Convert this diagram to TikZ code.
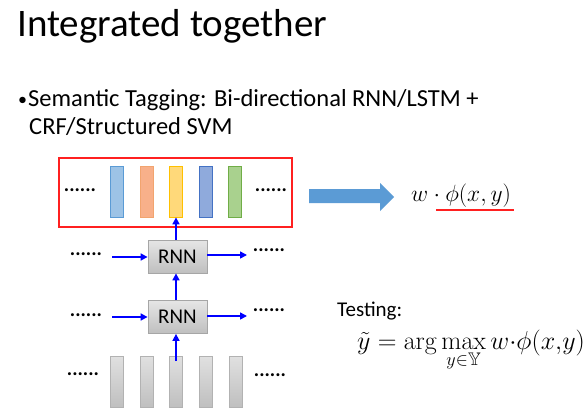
\RequirePackage{fix-cm}
\documentclass[tikz,border=0pt]{standalone}
\usepackage{amsmath,amssymb}
\usepackage[no-math]{fontspec}
\setmainfont{Carlito}
\usetikzlibrary{arrows.meta}
\definecolor{cblue}{HTML}{9DC3E6}\definecolor{cblueD}{HTML}{5B9BD5}
\definecolor{corange}{HTML}{F8B08A}\definecolor{corangeD}{HTML}{ED7D31}
\definecolor{cyellow}{HTML}{FFD97A}\definecolor{cyellowD}{HTML}{FFC000}
\definecolor{cdblue}{HTML}{8FAADC}\definecolor{cdblueD}{HTML}{4472C4}
\definecolor{cgreen}{HTML}{A9D18E}\definecolor{cgreenD}{HTML}{70AD47}
\definecolor{bigarrow}{HTML}{5B9BD5}
\definecolor{redbox}{HTML}{FF2020}
\definecolor{linkblue}{HTML}{0000FF}
\begin{document}
\begin{tikzpicture}[x=1pt,y=-1pt,
  bar/.style={draw, line width=0.8pt, minimum width=13pt, minimum height=51pt, inner sep=0pt},
  greybar/.style={bar, draw=black!30, top color=black!12, bottom color=black!25},
  rnnbox/.style={draw=black!35, line width=0.8pt, top color=black!10, bottom color=black!25,
     minimum width=59pt, minimum height=33pt, inner sep=0pt, font=\fontsize{21}{22}\selectfont},
  dots/.style={inner sep=0pt, font=\fontsize{20}{20}\selectfont\bfseries},
  link/.style={draw=linkblue, line width=1.6pt, -{Triangle[length=7pt,width=7pt]}}
]
\useasboundingbox (0,0) rectangle (585,414);

% title and bullet
\node[anchor=base west, inner sep=0pt, font=\fontsize{39}{44}\selectfont] (title) at (17,37) {Integrated together};
\node[anchor=base west, inner sep=0pt, font=\fontsize{24.5}{28}\selectfont] (b1) at (18,107) {{\fontsize{18}{18}\selectfont\raisebox{1pt}{\textbullet}}\hspace{1pt}Semantic Tagging: Bi-directional RNN/LSTM +};
\node[anchor=base west, inner sep=0pt, font=\fontsize{24.5}{28}\selectfont] (b2) at (29,135) {CRF/Structured SVM};

% red box
\draw[redbox, line width=1.6pt] (59,158) rectangle (292,227);
\node[bar, draw=cblueD, fill=cblue] (c1) at (117,191.5) {};
\node[bar, draw=corangeD!70, fill=corange] (c2) at (147,191.5) {};
\node[bar, draw=cyellowD, fill=cyellow] (c3) at (176,191.5) {};
\node[bar, draw=cdblueD, fill=cdblue] (c4) at (206,191.5) {};
\node[bar, draw=cgreenD, fill=cgreen] (c5) at (235,191.5) {};
\node[dots] (dl0) at (80,190) {......};
\node[dots] (dr0) at (271,190) {......};

% RNN boxes
\node[rnnbox] (r1) at (177.5,256.5) {RNN};
\node[rnnbox] (r2) at (177.5,317) {RNN};

% side dots
\node[dots] (dl1) at (86,254) {......};
\node[dots] (dr1) at (269,250) {......};
\node[dots] (dl2) at (86,315) {......};
\node[dots] (dr2) at (269,310) {......};
\coordinate (al1) at (112,257);
\coordinate (ar1) at (247,255);
\coordinate (al2) at (112,317);
\coordinate (ar2) at (247,316);
\draw[link] (al1) -- (r1.west |- al1);
\draw[link] (r1.east |- ar1) -- (ar1);
\draw[link] (al2) -- (r2.west |- al2);
\draw[link] (r2.east |- ar2) -- (ar2);

% grey bars
\node[greybar] (g1) at (117,381.5) {};
\node[greybar] (g2) at (147,381.5) {};
\node[greybar] (g3) at (176,381.5) {};
\node[greybar] (g4) at (206,381.5) {};
\node[greybar] (g5) at (236,381.5) {};
\node[dots] (dl3) at (83,374) {......};
\node[dots] (dr3) at (270,375) {......};

% vertical links
\coordinate (gtop) at (176,361);
\draw[link] (gtop) -- (gtop |- r2.south);
\draw[link] (r2.north -| gtop) -- (r1.south -| gtop);
\draw[link] (r1.north -| gtop) -- (c3.south);

% big arrow
\fill[bigarrow] (309,189) -- (380,189) -- (380,183) -- (394,197) -- (380,211) -- (380,203) -- (309,203) -- cycle;

% w phi
\node[anchor=west, inner sep=0pt, font=\fontsize{23.5}{26}\selectfont] (wphi) at (411,196) {$w\cdot\phi(x,y)$};
\coordinate (u1) at (436,210);
\coordinate (u2) at (514,210);
\draw[redbox, line width=1.8pt] (u1) -- (u2);

% testing
\node[anchor=west, inner sep=0pt, font=\fontsize{21}{24}\selectfont] (test) at (337,311) {Testing:};
\node[anchor=base west, inner sep=0pt, font=\fontsize{26}{28}\selectfont] (form) at (357,349)
  {$\displaystyle \tilde{y} = \arg\max_{y\in\mathbb{Y}} w{\cdot}\phi(x{,}y)$};
\end{tikzpicture}
\end{document}
